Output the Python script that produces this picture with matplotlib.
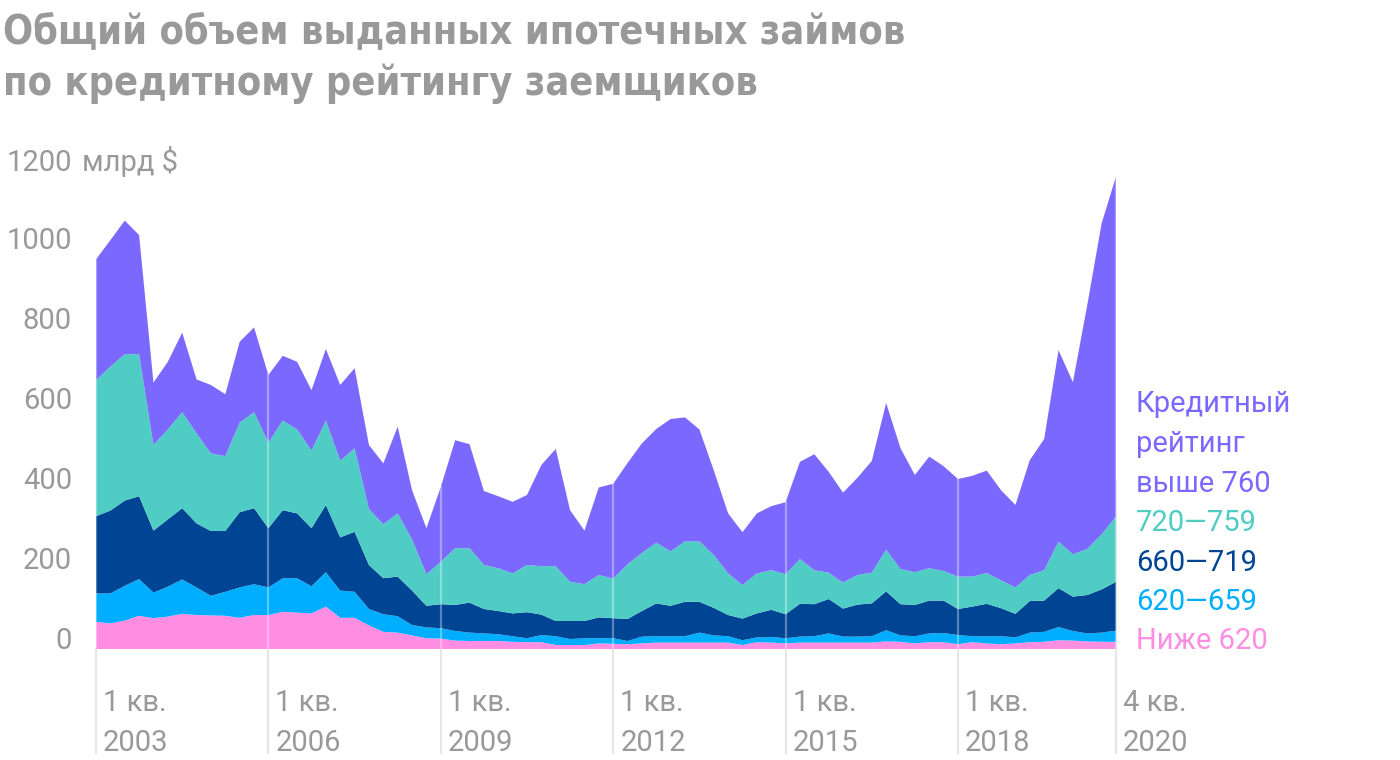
import numpy as np
import matplotlib
matplotlib.use("Agg")
import matplotlib.pyplot as plt

# quarterly originations, bn $, Q1 2003 .. Q4 2020
below_620 = [68, 64, 71, 83, 77, 81, 88, 85, 84, 83, 78, 85, 85, 93, 91, 89, 106, 78, 78, 59,
             43, 41, 34, 27, 26, 21, 20, 20, 20, 18, 17, 17, 10, 10, 10, 14, 13, 12, 14, 16,
             16, 16, 16, 16, 16, 10, 17, 16, 14, 16, 16, 16, 16, 16, 16, 19, 18, 14, 17, 17,
             12, 17, 14, 12, 14, 17, 18, 22, 21, 19, 18, 18]
r620_659 = [71, 75, 87, 92, 64, 75, 86, 69, 49, 60, 76, 77, 69, 84, 86, 68, 86, 68, 65, 41,
            44, 41, 26, 27, 26, 24, 21, 19, 17, 14, 10, 18, 22, 15, 17, 13, 14, 8, 17, 16,
            16, 16, 25, 18, 16, 12, 12, 14, 13, 15, 16, 23, 15, 15, 16, 28, 16, 18, 22, 23,
            23, 15, 18, 20, 15, 24, 25, 33, 24, 20, 23, 28]
r660_719 = [193, 207, 213, 207, 155, 168, 178, 160, 162, 152, 188, 190, 148, 170, 162, 145, 168, 133, 150, 110,
            90, 99, 86, 54, 60, 65, 75, 61, 58, 57, 65, 51, 38, 45, 43, 52, 50, 55, 64, 82,
            76, 86, 77, 69, 53, 54, 60, 68, 60, 82, 80, 86, 70, 80, 82, 97, 78, 78, 82, 81,
            65, 74, 81, 70, 59, 79, 78, 97, 86, 96, 108, 122]
r720_759 = [340, 360, 366, 355, 214, 225, 240, 225, 194, 187, 224, 240, 214, 224, 210, 194, 211, 192, 209, 140,
            135, 158, 128, 79, 106, 142, 136, 110, 107, 100, 118, 121, 137, 98, 92, 106, 99, 137, 145, 152,
            136, 151, 151, 132, 104, 84, 100, 99, 100, 112, 85, 66, 65, 74, 77, 104, 88, 82, 81, 74,
            81, 75, 77, 70, 66, 65, 76, 116, 106, 115, 138, 163]
above_760 = [302, 316, 334, 298, 156, 169, 199, 135, 171, 155, 202, 212, 169, 162, 169, 151, 179, 189, 200, 160,
             152, 217, 123, 115, 187, 270, 260, 185, 180, 179, 175, 253, 293, 179, 134, 219, 237, 253, 274, 284,
             331, 310, 280, 212, 150, 132, 150, 160, 180, 243, 290, 252, 225, 243, 279, 367, 302, 243, 279, 262,
             244, 252, 256, 225, 206, 287, 328, 479, 430, 610, 777, 850]

tick_quarters = [0, 12, 24, 36, 48, 60, 71]
tick_labels = ["1 кв.\n2003", "1 кв.\n2006", "1 кв.\n2009", "1 кв.\n2012",
               "1 кв.\n2015", "1 кв.\n2018", "4 кв.\n2020"]
y_ticks = [0, 200, 400, 600, 800, 1000]

series = [below_620, r620_659, r660_719, r720_759, above_760]
colors = ["#ff8de1", "#00aeff", "#004494", "#4fcdc4", "#7b69ff"]
legend_lines = [("Кредитный", "#7b69ff"), ("рейтинг", "#7b69ff"), ("выше 760", "#7b69ff"),
                ("720—759", "#4fcdc4"), ("660—719", "#004494"), ("620—659", "#00aeff"),
                ("Ниже 620", "#ff8de1")]

W, H = 1400, 760
grey = "#999999"
body_font = ["Roboto", "DejaVu Sans"]


def fx(x):
    return x / W


def fy(y):
    return 1 - y / H


fig = plt.figure(figsize=(14, 7.6), dpi=100)
fig.patch.set_facecolor("white")
ax = fig.add_axes([fx(96), fy(649), (1116 - 96) / W, (649 - 169) / H])

x = np.arange(len(below_620))
ax.stackplot(x, *series, colors=colors, linewidth=0, zorder=2)
ax.set_xlim(0, 71)
ax.set_ylim(0, 1200)
ax.axis("off")

total = np.sum(np.array(series), axis=0)
for q in tick_quarters:
    ax.plot([q, q], [-260, 0], color="#e6e6e6", lw=1.6, clip_on=False, zorder=1)
    ax.plot([q, q], [0, total[q]], color="white", alpha=0.35, lw=1.6, zorder=3)
# right edge line only shows beside the last column
ax.plot([71, 71], [0, 420], color="#e6e6e6", lw=1.6, clip_on=False, zorder=1)

for q, lab in zip(tick_quarters, tick_labels):
    xp = 96 + q * (1020 / 71) + 7
    l1, l2 = lab.split("\n")
    fig.text(fx(xp), fy(711), l1, color=grey, fontsize=21, family=body_font, ha="left", va="baseline")
    fig.text(fx(xp), fy(751), l2, color=grey, fontsize=21, family=body_font, ha="left", va="baseline")

for v in y_ticks:
    yp = 649 - v * 0.4
    fig.text(fx(72), fy(yp), str(v), color=grey, fontsize=21, family=body_font, ha="right", va="baseline")
fig.text(fx(72), fy(171), "1200", color=grey, fontsize=21, family=body_font, ha="right", va="baseline")
fig.text(fx(82), fy(171), "млрд $", color=grey, fontsize=21, family=body_font, ha="left", va="baseline")

baselines = [412, 452, 492, 531, 571, 610, 649]
for (txt, c), b in zip(legend_lines, baselines):
    fig.text(fx(1136), fy(b), txt, color=c, fontsize=21, family=body_font, ha="left", va="baseline")

title_font = ["DejaVu Sans"]
t1 = fig.text(fx(3), fy(43), "Общий объем выданных ипотечных займов", color=grey, fontsize=31,
              fontweight="bold", fontstretch="condensed", family=title_font, ha="left", va="baseline")
t2 = fig.text(fx(3), fy(95), "по кредитному рейтингу заемщиков", color=grey, fontsize=31,
              fontweight="bold", fontstretch="condensed", family=title_font, ha="left", va="baseline")

# fit the first title line to the reference width (~902 px)
fig.canvas.draw()
w = t1.get_window_extent().width
scale = 902 / w
t1.set_fontsize(31 * scale)
t2.set_fontsize(31 * scale)

fig.savefig("out.png", dpi=100, facecolor="white")
